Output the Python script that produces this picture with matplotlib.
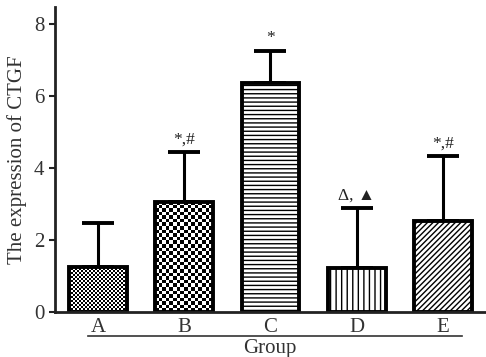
import numpy as np
import matplotlib.pyplot as plt
from matplotlib.lines import Line2D

groups = ["A", "B", "C", "D", "E"]
means = [1.25, 3.06, 6.36, 1.22, 2.53]
errors = [1.22, 1.39, 0.89, 1.68, 1.80]
marks = ["", "*,#", "*", "\u0394, \u25b2", "*,#"]
hatches = [None, None, "----", "|||", "//////"]

plt.rcParams['font.family'] = ['Liberation Serif', 'DejaVu Sans']
plt.rcParams['hatch.linewidth'] = 1.0

fig = plt.figure(figsize=(4.86, 3.57), dpi=100)
ax = fig.add_axes([0.113, 0.126, 0.887, 0.855])

x = np.arange(len(groups))
bars = ax.bar(x, means, width=0.67, color='white', edgecolor='black',
              linewidth=2.8, zorder=2)
for b, h in zip(bars, hatches):
    if h:
        b.set_hatch(h)
    else:
        b.set_facecolor('none')

ax.errorbar(x, means, yerr=[np.zeros(len(x)), errors], fmt='none',
            ecolor='black', elinewidth=2.2, capsize=11.5, capthick=2.8, zorder=1)

ax.set_xlim(-0.5, 4.5)
ax.set_ylim(0, 8.47)


def checker_fill(bar, cell_px):
    # fill a bar with a checkerboard texture
    x0, y0 = bar.get_x(), bar.get_y()
    w, hgt = bar.get_width(), bar.get_height()
    p0 = ax.transData.transform((x0, y0))
    p1 = ax.transData.transform((x0 + w, y0 + hgt))
    nx = max(int(round(abs(p1[0] - p0[0]) / cell_px)), 1)
    ny = max(int(round(abs(p1[1] - p0[1]) / cell_px)), 1)
    ii, jj = np.indices((ny, nx))
    img = ((ii + jj) % 2).astype(float)
    ax.imshow(img, extent=(x0, x0 + w, y0, y0 + hgt), cmap='gray',
              vmin=0, vmax=1, interpolation='nearest', aspect='auto',
              zorder=1.5)


checker_fill(bars[0], 2.0)
checker_fill(bars[1], 3.6)
ax.set_xlim(-0.5, 4.5)
ax.set_ylim(0, 8.47)

for xi, m, e, t in zip(x, means, errors, marks):
    if t:
        ax.text(xi, m + e + 0.12, t, ha='center', va='bottom', fontsize=12.5,
                color='#222222')

ax.set_yticks([0, 2, 4, 6, 8])
ax.set_xticks(x)
ax.set_xticklabels(groups)
ax.tick_params(axis='y', labelsize=15, width=1.5, length=4, colors='#222222',
               labelcolor='#333333')
ax.tick_params(axis='x', length=0, labelsize=15, labelcolor='#333333', pad=4)
ax.spines['top'].set_visible(False)
ax.spines['right'].set_visible(False)
ax.spines['left'].set_linewidth(2)
ax.spines['bottom'].set_linewidth(2)
ax.spines['left'].set_color('#222222')
ax.spines['bottom'].set_color('#222222')
ax.set_ylabel('The expression of CTGF', fontsize=15, color='#333333', labelpad=5)

fig.add_artist(Line2D([88 / 486, 462 / 486], [1 - 336 / 357, 1 - 336 / 357],
                      color='#333333', linewidth=1.2))
fig.text(270 / 486, 1 - 348 / 357, 'Group', ha='center', va='center',
         fontsize=15, color='#333333')

fig.savefig('out.png', dpi=100)
